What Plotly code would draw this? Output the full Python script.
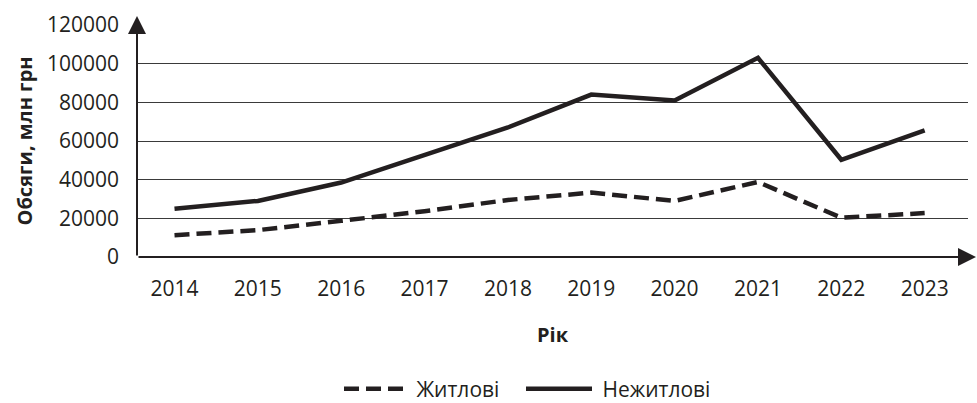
import plotly.graph_objects as go

years = [2014, 2015, 2016, 2017, 2018, 2019, 2020, 2021, 2022, 2023]
residential = [11300, 13900, 18700, 23700, 29500, 33300, 29000, 38800, 20300, 22700]
nonresidential = [25000, 29000, 38500, 52500, 67000, 84000, 81000, 103000, 50300, 65500]
y_ticks = [0, 20000, 40000, 60000, 80000, 100000, 120000]

INK = "#231f20"
FONT = "Open Sans"

fig = go.Figure()
fig.add_trace(go.Scatter(
    x=years, y=residential, mode="lines", name="&nbsp;Житлові",
    line=dict(color=INK, width=4.5, dash="15px,7px"), legend="legend",
))
fig.add_trace(go.Scatter(
    x=years, y=nonresidential, mode="lines", name="&nbsp;Нежитлові",
    line=dict(color=INK, width=4.5), legend="legend2",
))

W, H = 977, 403
L, R, T, B = 137, 9, 25, 146
plot_w = W - L - R
plot_h = H - T - B
leg_y = -(389 - (H - B)) / plot_h

fig.update_layout(
    width=W, height=H,
    margin=dict(l=L, r=R, t=T, b=B, autoexpand=False),
    paper_bgcolor="white", plot_bgcolor="white",
    font=dict(family=FONT, size=21, color=INK),
    showlegend=True,
    legend=dict(
        orientation="h", x=(339 - L) / plot_w, xanchor="left",
        y=leg_y, yanchor="middle",
        font=dict(family=FONT, size=21, color=INK),
        itemwidth=62, bgcolor="rgba(0,0,0,0)",
    ),
    legend2=dict(
        orientation="h", x=(521 - L) / plot_w, xanchor="left",
        y=leg_y, yanchor="middle",
        font=dict(family=FONT, size=21, color=INK),
        itemwidth=66, bgcolor="rgba(0,0,0,0)",
    ),
    xaxis=dict(
        range=[2013.55, 2023.52],
        tickmode="array", tickvals=years, ticktext=[str(y) for y in years],
        showgrid=False, zeroline=False, showline=False, ticks="",
        ticklabelstandoff=17,
        tickfont=dict(family=FONT, size=21, color=INK),
        title=dict(text="<b>Рік</b>", standoff=26,
                   font=dict(family=FONT, size=20, color=INK)),
    ),
    yaxis=dict(
        range=[0, 120000],
        tickmode="array", tickvals=y_ticks, ticktext=[str(v) for v in y_ticks],
        showgrid=True, gridcolor="#3a3a3a", gridwidth=1,
        zeroline=False, showline=False, ticks="",
        ticklabelstandoff=17,
        tickfont=dict(family=FONT, size=21, color=INK),
        title=dict(text="<b>Обсяги, млн грн</b>", standoff=8,
                   font=dict(family=FONT, size=20, color=INK)),
    ),
)

# y axis with arrow
fig.add_annotation(
    x=0, y=1 + 9 / plot_h, xref="paper", yref="paper",
    ax=0, ay=plot_h + 9, axref="pixel", ayref="pixel",
    showarrow=True, arrowhead=2, arrowsize=1.8, arrowwidth=2,
    arrowcolor=INK, standoff=0, text="",
)
# x axis with arrow
fig.add_annotation(
    x=1 + 8 / plot_w, y=0, xref="paper", yref="paper",
    ax=-(plot_w + 8), ay=0, axref="pixel", ayref="pixel",
    showarrow=True, arrowhead=2, arrowsize=1.8, arrowwidth=2,
    arrowcolor=INK, standoff=0, text="",
)

fig.write_html("out.html", config={"displayModeBar": False},
               post_script="document.body.style.margin='0';")
